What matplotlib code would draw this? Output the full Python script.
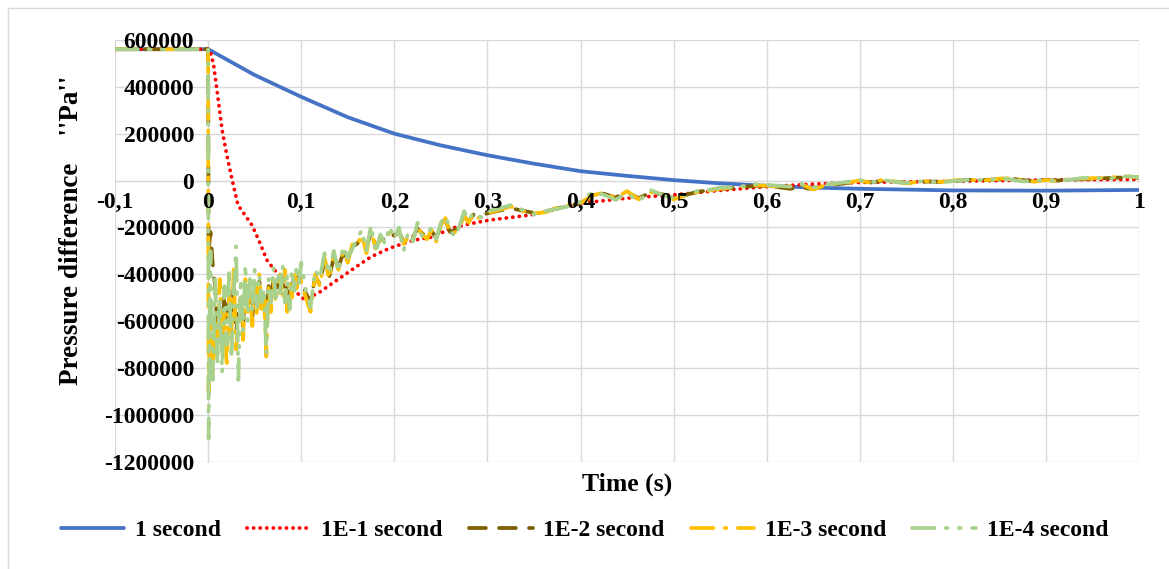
import matplotlib
matplotlib.use("Agg")
from matplotlib import pyplot as plt
import numpy as np

plt.rcParams["font.family"] = ["Liberation Serif", "DejaVu Serif"]
plt.rcParams["font.weight"] = "bold"

# time axis ticks (comma decimal labels)
x_ticks = [-0.1, 0, 0.1, 0.2, 0.3, 0.4, 0.5, 0.6, 0.7, 0.8, 0.9, 1.0]
x_labels = ["-0,1", "0", "0,1", "0,2", "0,3", "0,4", "0,5", "0,6", "0,7", "0,8", "0,9", "1"]
y_ticks = [-1200000, -1000000, -800000, -600000, -400000, -200000, 0, 200000, 400000, 600000]
y_labels = [str(v) for v in y_ticks]

# closing time 1 s
t_1s = [-0.1, 0, 0.05, 0.1, 0.15, 0.2, 0.25, 0.3, 0.35, 0.4, 0.45, 0.5, 0.55,
        0.6, 0.65, 0.7, 0.8, 0.9, 1.0]
dp_1s_kpa = [560, 560, 450, 357, 270, 200, 150, 108, 72, 40, 20, 2, -12,
             -22, -30, -35, -42, -43, -40]

# closing time 0.1 s
t_1e1 = [-0.1, 0, 0.003, 0.006, 0.01, 0.015, 0.02, 0.026, 0.032, 0.04, 0.047,
         0.055, 0.063, 0.07, 0.079, 0.09, 0.104, 0.12, 0.14, 0.157, 0.175, 0.195,
         0.22, 0.242, 0.26, 0.28, 0.303, 0.346, 0.403, 0.453, 0.5, 0.55, 0.6,
         0.65, 0.7, 0.8, 0.9, 1.0]
dp_1e1_kpa = [560, 560, 540, 490, 370, 216, 110, 0, -104, -150, -189,
              -260, -338, -375, -415, -460, -509, -475, -420, -373, -325, -288,
              -255, -240, -205, -185, -168, -147, -95, -74, -61, -42, -26,
              -15, -8, -3, 3, 5]

# output times shared by the faster closing cases
t_fine = ([-0.1, 0, 0.0005]
          + [round(0.0025 * k, 4) for k in range(1, 41)]
          + [round(0.1 + 0.005 * k, 4) for k in range(1, 41)]
          + [round(0.3 + 0.0125 * k, 4) for k in range(1, 57)])

# closing time 0.01 s
dp_1e2_kpa = [560, 560,
              -300, -220, -360, -450, -640, -520, -690, -480, -620, -520, -600,
              -450, -650, -560, -500, -620, -470, -540, -480, -580, -460, -540,
              -430, -520, -490, -600, -450, -500, -430, -480, -440, -410, -470,
              -390, -500, -430, -470, -390, -440, -410, -420,
              -480, -520, -410, -440, -340, -410, -330, -370, -310, -340, -280,
              -270, -240, -290, -220, -280, -250, -250, -225, -235, -220, -260,
              -235, -240, -205, -225, -240, -215, -245, -195, -170, -220, -210,
              -195, -155, -175, -145, -150, -145, -140,
              -128, -118, -128, -138, -132, -118, -108, -96, -70, -56, -72, -50,
              -75, -52, -58, -75, -62, -48, -42, -36, -32, -28, -22, -24, -28,
              -35, -30, -36, -22, -16, -10, -3, -8, 0, -5, -10, -6, -4, -6, -2,
              2, 4, 3, 6, 8, 2, -3, 2, 0, 4, 6, 8, 10, 12, 14, 12]

# closing time 0.001 s
dp_1e3_kpa = [560, 560,
              -900, -520, -820, -600, -760, -420, -700, -560, -800, -480, -650,
              -380, -720, -600, -500, -680, -420, -560, -470, -620, -450, -580,
              -400, -560, -480, -750, -450, -560, -420, -520, -450, -400, -500,
              -380, -560, -420, -500, -380, -460, -400, -430,
              -500, -560, -400, -450, -330, -420, -320, -380, -300, -350, -270,
              -280, -230, -310, -210, -290, -250, -260, -220, -240, -215, -270,
              -240, -250, -200, -230, -250, -210, -260, -190, -160, -230, -220,
              -200, -150, -180, -140, -160, -150, -140,
              -125, -110, -130, -140, -135, -115, -105, -95, -65, -50, -75, -45,
              -80, -50, -55, -80, -65, -50, -43, -35, -30, -26, -20, -22, -25,
              -24, -16, -38, -20, -14, -8, 0, -10, 4, -4, -12, -5, -2, -6, 0,
              4, 2, 2, 8, 10, 0, -5, 2, -2, 6, 8, 10, 12, 15, 18, 14]

# closing time 0.0001 s
dp_1e4_kpa = [560, 560,
              -1100, -300, -850, -420, -780, -500, -820, -450, -700, -380, -760,
              -480, -280, -850, -420, -640, -360, -600, -420, -560, -380, -540,
              -400, -520, -460, -740, -420, -520, -370, -500, -390, -480, -360,
              -520, -400, -550, -380, -470, -360, -440, -350,
              -470, -540, -380, -420, -310, -400, -300, -390, -280, -330, -290,
              -250, -210, -300, -190, -310, -230, -270, -195, -250, -200, -300,
              -220, -260, -180, -240, -230, -200, -250, -180, -150, -210, -240,
              -195, -130, -170, -135, -150, -160, -130,
              -120, -104, -125, -145, -130, -120, -110, -90, -50, -60, -82, -55,
              -88, -40, -60, -75, -60, -45, -40, -30, -28, -24, -15, -18, -22,
              -26, -14, -30, -18, -12, -5, 3, -8, 2, -6, -10, -3, -5, -8, -2,
              2, 4, 0, 12, 4, -4, 0, 2, 0, 4, 10, 14, 8, 12, 18, 15]

series = [
    ("1 second", t_1s, dp_1s_kpa, "#4472C4", "-"),
    ("1E-1 second", t_1e1, dp_1e1_kpa, "#FF0000", (0, (0.05, 1.7))),
    ("1E-2 second", t_fine, dp_1e2_kpa, "#7F6000", (0, (4.5, 3.5))),
    ("1E-3 second", t_fine, dp_1e3_kpa, "#FFC000", (0, (6, 3, 0.5, 3))),
    ("1E-4 second", t_fine, dp_1e4_kpa, "#A9D18E", (0, (6, 3, 0.5, 3, 0.5, 3))),
]

fig = plt.figure(figsize=(11.69, 5.69), dpi=100)
ax = fig.add_axes([0.0984, 0.188, 0.876, 0.742])

grid_col = "#D9D9D9"
for xv in x_ticks:
    ax.axvline(xv, color=grid_col, lw=1.0, zorder=1)
for yv in y_ticks:
    ax.axhline(yv, color=grid_col, lw=1.0, zorder=1)

for name, t, dp, col, ls in series:
    ax.plot(t, np.array(dp) * 1000, color=col, linestyle=ls, lw=2.7,
            dash_capstyle="round", solid_capstyle="round", label=name, zorder=2)

ax.set_xlim(-0.1, 1.0)
ax.set_ylim(-1200000, 600000)

# axes cross at the origin, as in the spreadsheet chart
ax.spines["left"].set_position(("data", 0))
ax.spines["bottom"].set_position(("data", 0))
for side in ["top", "right"]:
    ax.spines[side].set_visible(False)
for side in ["left", "bottom"]:
    ax.spines[side].set_color(grid_col)
    ax.spines[side].set_zorder(1)

ax.set_axisbelow(False)
ax.set_xticks(x_ticks)
ax.set_xticklabels(x_labels)
ax.set_yticks(y_ticks)
ax.set_yticklabels(y_labels)
ax.tick_params(axis="both", length=0, labelsize=17)
ax.tick_params(axis="x", pad=8)
ax.tick_params(axis="y", pad=10)

ax.set_xlabel("Time (s)", fontsize=18.5, fontweight="bold")
ax.xaxis.set_label_coords(0.5, -0.026)
ax.set_ylabel("Pressure difference    ''Pa''", fontsize=19.5, fontweight="bold")
ax.yaxis.set_label_coords(-0.03, 0.55)

fig.legend(loc="center", bbox_to_anchor=(0.5, 0.068), ncol=5, frameon=False,
           fontsize=17, handlelength=2.7, columnspacing=1.1, handletextpad=0.45)

fig.patches.append(plt.Rectangle((0.0068, -0.01), 1.0, 0.996, transform=fig.transFigure,
                                 fill=False, edgecolor=grid_col, lw=1.0))

fig.savefig("out.png", dpi=100)
